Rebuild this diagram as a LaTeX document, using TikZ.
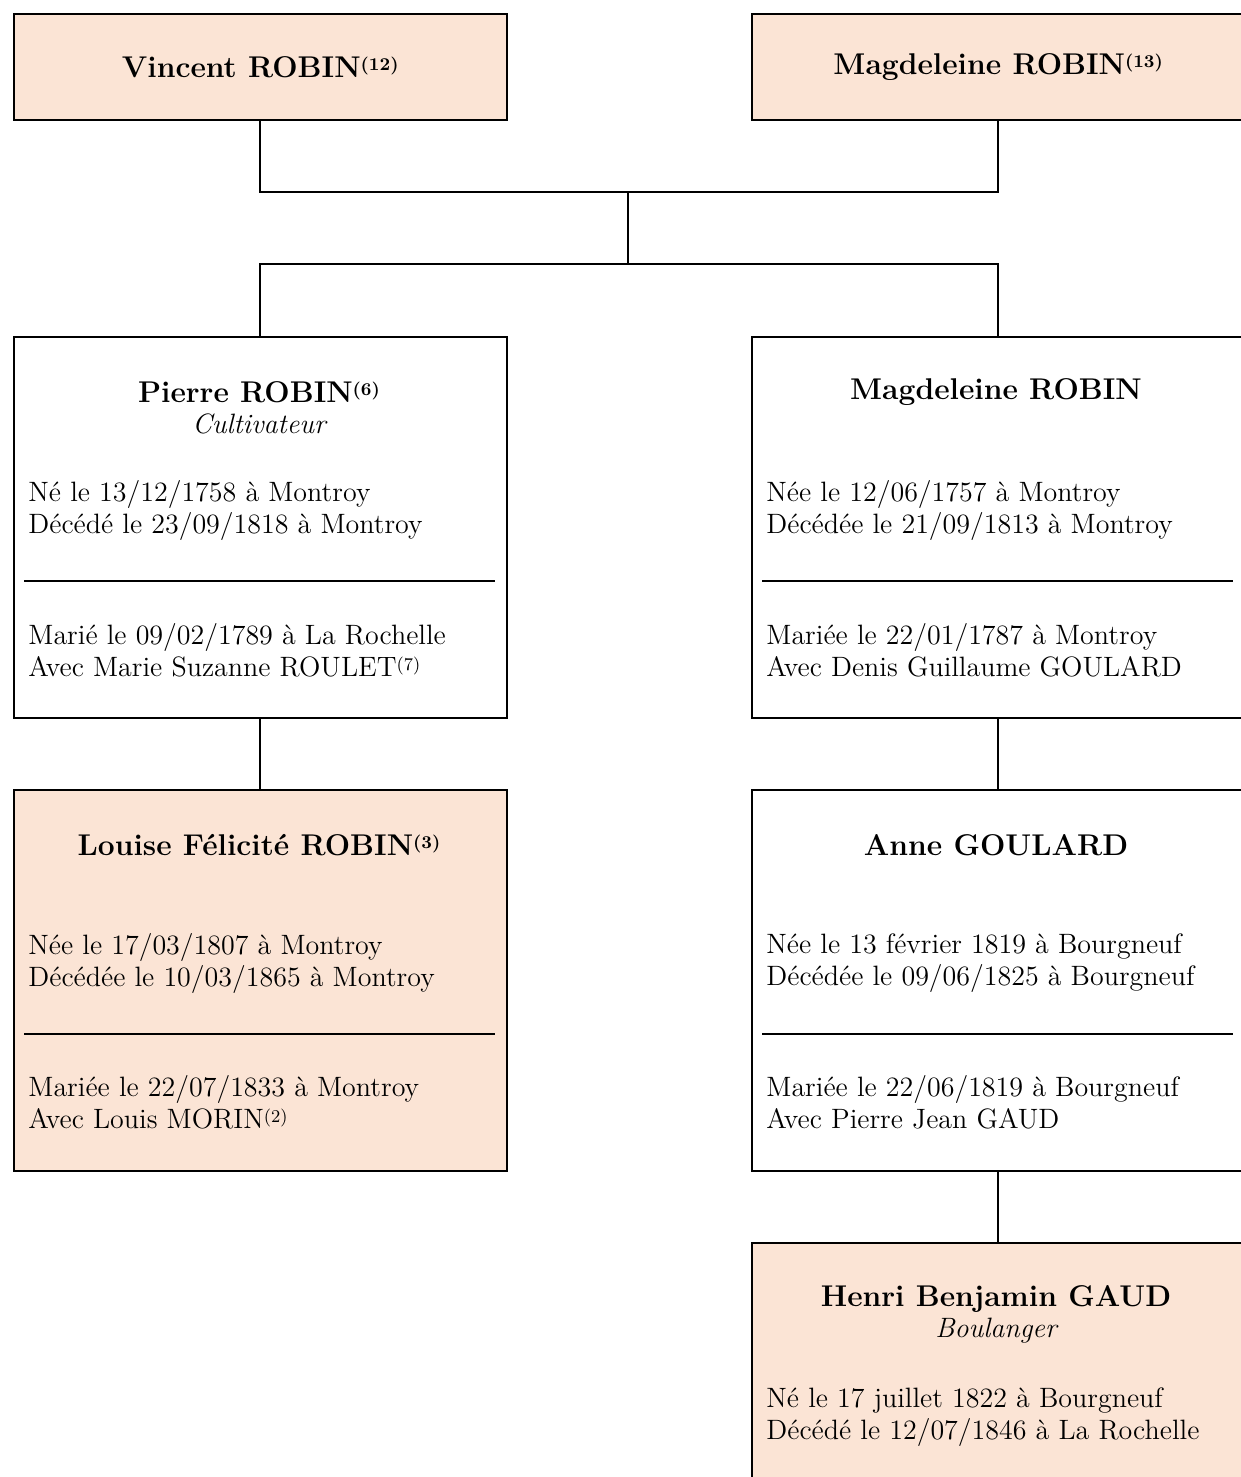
\documentclass[tikz,border=0pt]{standalone}
\definecolor{peach}{HTML}{FBE4D5}
\tikzset{
  box/.style={draw=black, line width=1pt, anchor=north west, inner sep=0pt, minimum width=246.5pt},
  hl/.style={fill=peach},
  conn/.style={draw=black, line width=1pt},
  sep/.style={draw=black, line width=1pt},
  body/.style={anchor=west, inner sep=0pt, align=left, font=\fontsize{14pt}{16pt}\selectfont},
  title/.style={inner sep=0pt, align=center, font=\fontsize{15pt}{15.5pt}\selectfont},
}
\newcommand{\nm}[1]{{\bfseries #1}}
\newcommand{\prof}[1]{{\fontsize{14pt}{15.5pt}\selectfont\itshape #1}}
\newcommand{\sref}[1]{\raisebox{0.5ex}{\fontsize{9pt}{9pt}\selectfont #1}}
\begin{document}
\begin{tikzpicture}[x=0.5pt,y=-0.5pt]
\useasboundingbox (0,0) rectangle (1241,1477);
\clip (0,0) rectangle (1241,1477);
% boxes
\node[box,hl,minimum height=53.4pt] (b1) at (12.7,12.7) {};
\node[box,hl,minimum height=53.4pt] (b2) at (750.7,12.7) {};
\node[box,minimum height=190.5pt] (b3) at (12.7,336) {};
\node[box,minimum height=190.5pt] (b4) at (750.7,336) {};
\node[box,hl,minimum height=190.5pt] (b5) at (12.7,789) {};
\node[box,minimum height=190.5pt] (b6) at (750.7,789) {};
\node[box,hl,minimum height=190.5pt] (b7) at (750.7,1242) {};
% connectors
\coordinate (j1) at (628,191.5);
\coordinate (j2) at (628,263.5);
\draw[conn] (b1.south) |- (j1) -| (b2.south);
\draw[conn] (j1) -- (j2);
\draw[conn] (b3.north) |- (j2) -| (b4.north);
\draw[conn] (b3.south) -- (b5.north);
\draw[conn] (b4.south) -- (b6.north);
\draw[conn] (b6.south) -- (b7.north);
% separators
\draw[sep] (24,580.7) -- (494.7,580.7);
\draw[sep] (762,580.7) -- (1233,580.7);
\draw[sep] (24,1033.5) -- (494.7,1033.5);
\draw[sep] (762,1033.5) -- (1233,1033.5);
% texts
\node[title] (t1) at (b1.center) {\nm{Vincent ROBIN\sref{(12)}}};
\node[title] (t2) at (b2.center) {\nm{Magdeleine ROBIN\sref{(13)}}};

\node[title] (t3) at (259,407.5) {\nm{Pierre ROBIN\sref{(6)}}\\\prof{Cultivateur}};
\node[body] (d3) at (28,510) {Né le 13/12/1758 à Montroy\\Décédé le 23/09/1818 à Montroy};
\node[body] (m3) at (28,650) {Marié le 09/02/1789 à La Rochelle\\Avec Marie Suzanne ROULET\sref{(7)}};

\node[title] (t4) at (996,392) {\nm{Magdeleine ROBIN}};
\node[body] (d4) at (766,510) {Née le 12/06/1757 à Montroy\\Décédée le 21/09/1813 à Montroy};
\node[body] (m4) at (766,650) {Mariée le 22/01/1787 à Montroy\\Avec Denis Guillaume GOULARD};

\node[title] (t5) at (259,845) {\nm{Louise Félicité ROBIN\sref{(3)}}};
\node[body] (d5) at (28,963) {Née le 17/03/1807 à Montroy\\Décédée le 10/03/1865 à Montroy};
\node[body] (m5) at (28,1102) {Mariée le 22/07/1833 à Montroy\\Avec Louis MORIN\sref{(2)}};

\node[title] (t6) at (996,845) {\nm{Anne GOULARD}};
\node[body] (d6) at (766,963) {Née le 13 février 1819 à Bourgneuf\\Décédée le 09/06/1825 à Bourgneuf};
\node[body] (m6) at (766,1102) {Mariée le 22/06/1819 à Bourgneuf\\Avec Pierre Jean GAUD};

\node[title] (t7) at (996,1314) {\nm{Henri Benjamin GAUD}\\\prof{Boulanger}};
\node[body] (d7) at (766,1417) {Né le 17 juillet 1822 à Bourgneuf\\Décédé le 12/07/1846 à La Rochelle};
\end{tikzpicture}
\end{document}
